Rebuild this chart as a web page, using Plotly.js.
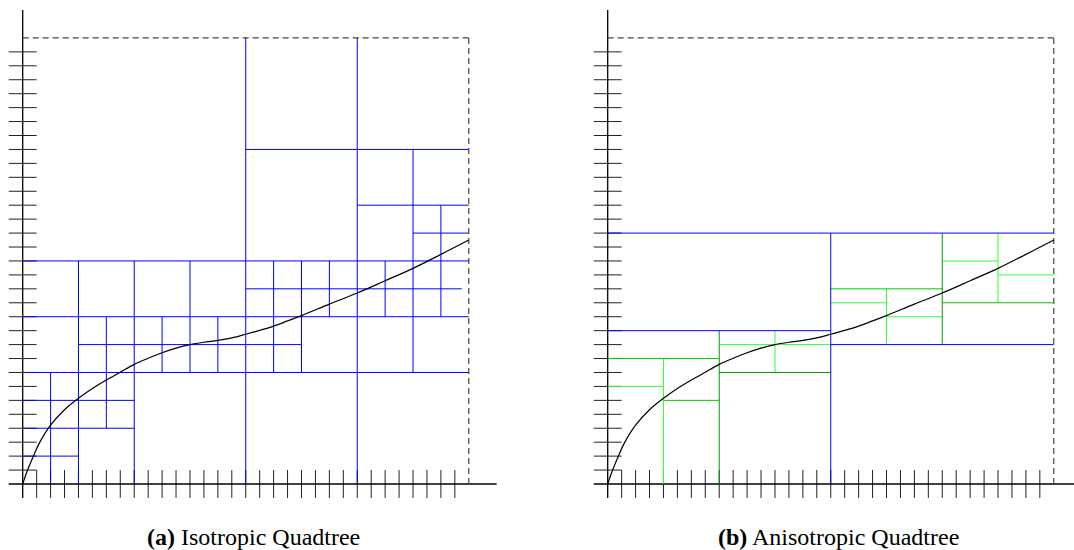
<!DOCTYPE html>
<html>
<head>
<meta charset="utf-8">
<script src="https://cdn.plot.ly/plotly-3.0.1.min.js"></script>
<style>
  html, body { margin: 0; padding: 0; background: #fff; }
  #chart { width: 1074px; height: 550px; }
</style>
</head>
<body>
<div id="chart"></div>
<script>
// ---------------- DATA ----------------
// Curve, in grid units
var curveX = [0, 0.35, 0.75, 1.2, 2, 3, 4, 5, 6, 7, 8, 9, 10, 11, 12, 13, 14, 15, 16, 17, 18, 19, 20, 22, 24, 26, 28, 30, 32];
var curveY = [0, 1.0, 1.96, 2.95, 4.23, 5.33, 6.15, 6.85, 7.46, 8.02, 8.58, 9.02, 9.42, 9.75, 10.0, 10.17, 10.3, 10.48, 10.74, 11.02, 11.33, 11.7, 12.08, 12.9, 13.7, 14.58, 15.47, 16.47, 17.5];

// Domain boundary and tick positions
var domainMax = 32;
var tickValues = [1,2,3,4,5,6,7,8,9,10,11,12,13,14,15,16,17,18,19,20,21,22,23,24,25,26,27,28,29,30,31];
var axisEnd = 34;

// Isotropic quadtree cell boundaries [x0, y0, x1, y1]
var isoSegments = [
  [16,0,16,32], [24,0,24,32], [8,0,8,16], [4,0,4,16], [12,8,12,16], [2,0,2,8],
  [6,4,6,12], [10,8,10,12], [14,8,14,12], [28,8,28,24], [30,12,30,20],
  [18,8,18,16], [20,8,20,16], [22,12,22,16], [26,12,26,16],
  [16,24,32,24], [24,20,32,20], [28,18,32,18], [0,16,32,16], [16,14,31.5,14],
  [0,12,32,12], [4,10,20,10], [0,8,32,8], [0,6,8,6], [0,4,8,4], [0,2,4,2]
];

// Anisotropic quadtree boundaries by level
var anisoLevel0 = [[0,18,32,18], [0,11,16,11], [16,10,32,10], [16,0,16,18]];
var anisoLevel1 = [[8,0,8,11], [24,10,24,18], [8,8,16,8]];
var anisoLevel2 = [[0,9,8,9], [4,6,8,6], [16,14,24,14], [24,13,32,13]];
var anisoLevel3 = [[4,0,4,9], [0,7,4,7], [8,10,16,10], [12,8,12,11], [16,13,20,13],
                   [20,10,20,14], [20,12,24,12], [28,13,28,18], [24,16,28,16], [28,15,32,15]];

var captions = ["<b>(a)</b> Isotropic Quadtree", "<b>(b)</b> Anisotropic Quadtree"];

// ---------------- LAYOUT CONSTANTS ----------------
var W = 1074, H = 550;
var unitPx = 13.94;
var originY = 484;
var originX = [22.7, 607.7];
var split = 537;

function segTrace(segs, color, width, xa, ya, dash) {
  var xs = [], ys = [];
  segs.forEach(function(s) { xs.push(s[0], s[2], null); ys.push(s[1], s[3], null); });
  return { type: 'scatter', mode: 'lines', x: xs, y: ys, xaxis: xa, yaxis: ya,
           line: { color: color, width: width, dash: dash || 'solid' },
           hoverinfo: 'skip', showlegend: false, cliponaxis: false };
}

var traces = [];
var axes = [['x','y'], ['x2','y2']];
axes.forEach(function(ax, i) {
  var xa = ax[0], ya = ax[1];
  var tks = [];
  tickValues.forEach(function(t) { tks.push([t,-1,t,1]); tks.push([-1,t,1,t]); });
  traces.push(segTrace(tks, '#222', 1, xa, ya));
  traces.push(segTrace([[-1,0,axisEnd,0],[0,-1,0,axisEnd]], '#000', 1.3, xa, ya));
  traces.push(segTrace([[0,domainMax,domainMax,domainMax],[domainMax,domainMax,domainMax,0]], '#444', 1.2, xa, ya, '6px,4px'));
  if (i === 0) {
    traces.push(segTrace(isoSegments, '#0000ff', 1, xa, ya));
  } else {
    traces.push(segTrace(anisoLevel3, '#33ff33', 1, xa, ya));
    traces.push(segTrace(anisoLevel2, '#00cc00', 1, xa, ya));
    traces.push(segTrace(anisoLevel1, '#009900', 1, xa, ya));
    traces.push(segTrace(anisoLevel0, '#0000ff', 1, xa, ya));
  }
  traces.push({ type: 'scatter', mode: 'lines', x: curveX, y: curveY, xaxis: xa, yaxis: ya,
    line: { color: '#000', width: 1.2, shape: 'spline', smoothing: 1 },
    hoverinfo: 'skip', showlegend: false });
});

function xRange(p0, p1, ox) { return [(p0 - ox) / unitPx, (p1 - ox) / unitPx]; }
var yRange = [(originY - H) / unitPx, originY / unitPx];

var hidden = { visible: false, showgrid: false, zeroline: false, fixedrange: true };
var capFont = { family: 'Liberation Serif, DejaVu Serif, serif', size: 24, color: '#000' };
var layout = {
  width: W, height: H, autosize: false,
  margin: { l: 0, r: 0, t: 0, b: 0, pad: 0 },
  paper_bgcolor: '#fff', plot_bgcolor: 'rgba(0,0,0,0)',
  showlegend: false,
  xaxis: Object.assign({}, hidden, { domain: [0, split / W], range: xRange(0, split, originX[0]) }),
  yaxis: Object.assign({}, hidden, { domain: [0, 1], range: yRange, anchor: 'x' }),
  xaxis2: Object.assign({}, hidden, { domain: [split / W, 1], range: xRange(split, W, originX[1]), anchor: 'y2' }),
  yaxis2: Object.assign({}, hidden, { domain: [0, 1], range: yRange, anchor: 'x2' }),
  annotations: [
    { text: captions[0], xref: 'paper', yref: 'paper', x: 253 / W, y: (H - 537) / H,
      xanchor: 'center', yanchor: 'middle', showarrow: false, font: capFont },
    { text: captions[1], xref: 'paper', yref: 'paper', x: 838 / W, y: (H - 537) / H,
      xanchor: 'center', yanchor: 'middle', showarrow: false, font: capFont }
  ]
};

Plotly.newPlot('chart', traces, layout, { staticPlot: true, displayModeBar: false });
</script>
</body>
</html>
